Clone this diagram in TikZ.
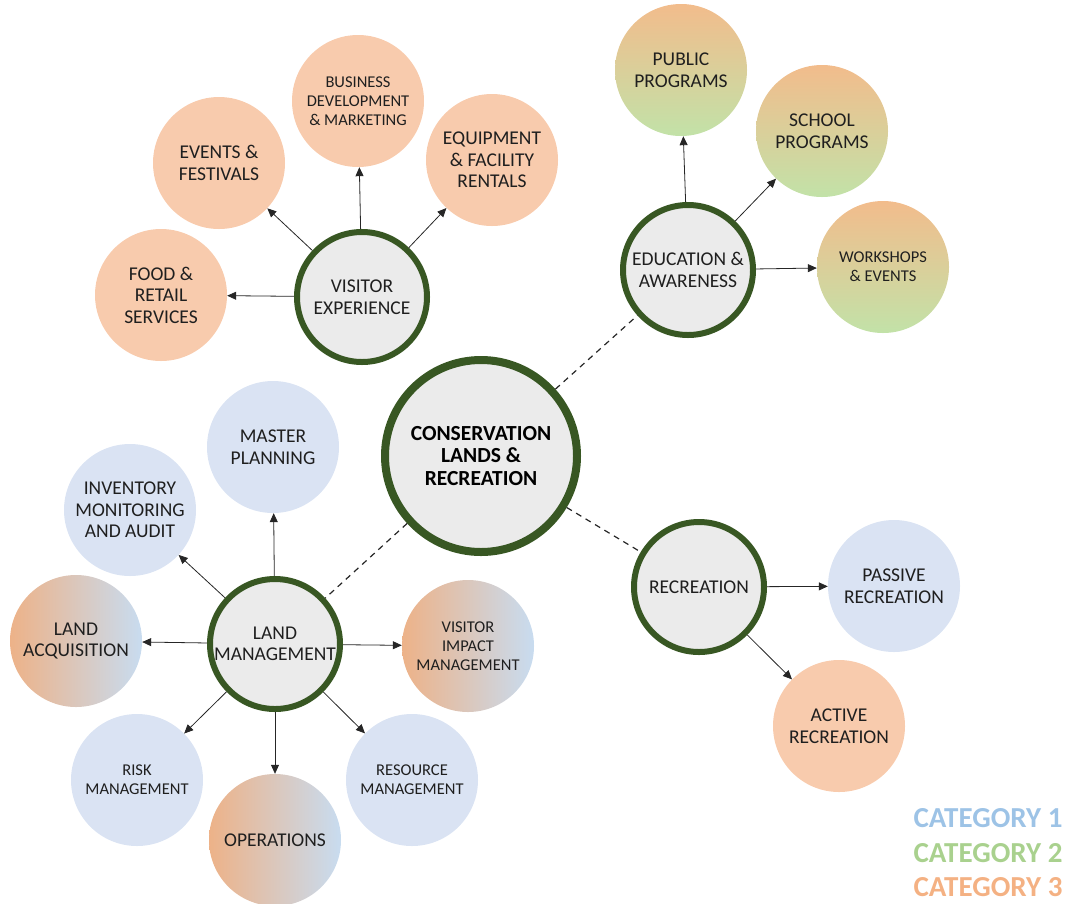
\documentclass[tikz,border=0pt]{standalone}
\usepackage{fontspec}
\setmainfont{Carlito}
\usetikzlibrary{arrows.meta}
\definecolor{hubgreen}{HTML}{385723}
\definecolor{hubfill}{HTML}{EBEBEB}
\definecolor{orfill}{HTML}{F8CBAD}
\definecolor{blfill}{HTML}{DAE3F3}
\definecolor{mixor}{HTML}{EDB288}
\definecolor{mixbl}{HTML}{C8DCF0}
\definecolor{gror}{HTML}{F2BC8C}
\definecolor{grgr}{HTML}{C2E2A8}
\definecolor{txt}{HTML}{1F1F1F}
\definecolor{cat1}{HTML}{9DC3E6}
\definecolor{cat2}{HTML}{A9D18E}
\definecolor{cat3}{HTML}{F4B183}
\begin{document}
\begin{tikzpicture}[x=1pt,y=-1pt,
  bigtext/.style={font=\fontsize{19.5}{21.5}\selectfont},
  smalltext/.style={font=\fontsize{16.5}{19}\selectfont},
  hub/.style={circle, draw=hubgreen, line width=6pt, fill=hubfill, minimum size=130pt,
    inner sep=0pt, align=center, text=txt, bigtext},
  sat/.style={circle, minimum size=132pt, inner sep=0pt, align=center, text=txt, bigtext},
  orsat/.style={sat, fill=orfill},
  blsat/.style={sat, fill=blfill},
  mixsat/.style={sat, left color=mixor, right color=mixbl},
  grsat/.style={sat, top color=gror, bottom color=grgr},
  arr/.style={-{Triangle[length=9pt,width=8pt]}, line width=0.8pt, draw=black!85},
  dashlink/.style={line width=1.2pt, draw=black!85, dash pattern=on 6pt off 5pt},
  legend/.style={anchor=base east, font=\fontsize{29}{31}\selectfont\bfseries}
]
\useasboundingbox (0,0) rectangle (1073,903);

% centre
\node[circle, draw=hubgreen, line width=8pt, fill=hubfill, minimum size=192pt, inner sep=0pt,
  align=center, font=\fontsize{21.5}{22.5}\selectfont\bfseries] (c) at (481,456)
  {CONSERVATION\\LANDS \&\\RECREATION};

% hubs
\node[hub] (ve) at (362,297) {VISITOR\\EXPERIENCE};
\node[hub] (ea) at (688,270) {EDUCATION \&\\AWARENESS};
\node[hub] (lm) at (275,644) {LAND\\MANAGEMENT};
\node[hub] (rc) at (699,587) {RECREATION};

% visitor experience satellites
\node[orsat] (food) at (161,295) {FOOD \&\\RETAIL\\SERVICES};
\node[orsat] (ev) at (219,163) {EVENTS \&\\FESTIVALS};
\node[orsat, smalltext] (bd) at (358,101) {BUSINESS\\DEVELOPMENT\\\& MARKETING};
\node[orsat] (eq) at (492,160) {EQUIPMENT\\\& FACILITY\\RENTALS};

% education satellites
\node[grsat] (pp) at (681,70) {PUBLIC\\PROGRAMS};
\node[grsat] (sp) at (822,131) {SCHOOL\\PROGRAMS};
\node[grsat, smalltext] (ws) at (883,267) {WORKSHOPS\\\& EVENTS};

% recreation satellites
\node[blsat] (pr) at (894,586) {PASSIVE\\RECREATION};
\node[orsat] (ar) at (839,726) {ACTIVE\\RECREATION};

% land management satellites
\node[blsat] (mp) at (273,447) {MASTER\\PLANNING};
\node[blsat] (inv) at (130,510) {INVENTORY\\MONITORING\\AND AUDIT};
\node[mixsat] (la) at (76,641) {LAND\\ACQUISITION};
\node[mixsat, smalltext] (vi) at (468,646) {VISITOR\\IMPACT\\MANAGEMENT};
\node[blsat, smalltext] (rm) at (137,780) {RISK\\MANAGEMENT};
\node[mixsat] (op) at (275,840) {OPERATIONS};
\node[blsat, smalltext] (rs) at (412,780) {RESOURCE\\MANAGEMENT};

% dashed links
\draw[dashlink] (c) -- (ea);
\draw[dashlink] (c) -- (rc);
\draw[dashlink] (c) -- (lm);

% arrows
\draw[arr] (ve) -- (food);
\draw[arr] (ve) -- (ev);
\draw[arr] (ve) -- (bd);
\draw[arr] (ve) -- (eq);
\draw[arr] (ea) -- (pp);
\draw[arr] (ea) -- (sp);
\draw[arr] (ea) -- (ws);
\draw[arr] (rc) -- (pr);
\draw[arr] (rc) -- (ar);
\draw[arr] (lm) -- (mp);
\draw[arr] (lm) -- (inv);
\draw[arr] (lm) -- (la);
\draw[arr] (lm) -- (vi);
\draw[arr] (lm) -- (rm);
\draw[arr] (lm) -- (op);
\draw[arr] (lm) -- (rs);

% legend
\node[legend, text=cat1] (l1) at (1066,827) {CATEGORY 1};
\node[legend, text=cat2] (l2) at (1066,862) {CATEGORY 2};
\node[legend, text=cat3] (l3) at (1066,896) {CATEGORY 3};
\end{tikzpicture}
\end{document}
